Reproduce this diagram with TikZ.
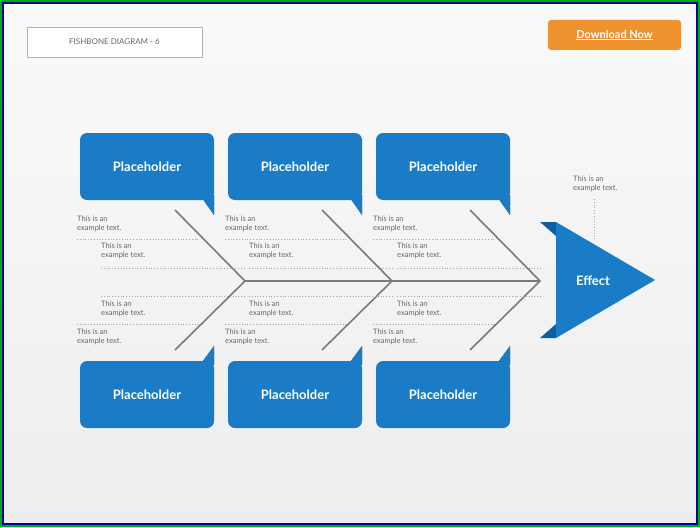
\documentclass[tikz,border=0pt]{standalone}
\usepackage{fontspec}
\setmainfont{Lato}
\begin{document}
\begin{tikzpicture}[x=1pt,y=-1pt,
  box/.style={fill=boxblue,rounded corners=7pt,text=white,font=\fontsize{13}{15}\selectfont\bfseries},
  ex/.style={anchor=north west,align=left,text=txtgray,font=\fontsize{7.5}{9}\selectfont,inner sep=0pt},
  dots/.style={dotted,draw=gray!70,line width=0.8pt},
  bone/.style={draw=bonegray,line width=1.6pt}]
\definecolor{boxblue}{HTML}{1A7CC6}
\definecolor{darkblue}{HTML}{0D5EA3}
\definecolor{txtgray}{HTML}{666666}
\definecolor{bonegray}{HTML}{7A7A7A}
\definecolor{orng}{HTML}{F0922E}
\useasboundingbox (0,0) rectangle (700,527);
\shade[top color=gray!4,bottom color=gray!14] (0,0) rectangle (700,527);
\draw[green!70!black,line width=2pt] (1,1) rectangle (699,526);
\draw[blue!70!black,line width=1.5pt] (3,3) rectangle (697,524);
% title
\node[draw=gray!60,fill=white,minimum width=175pt,minimum height=30pt,text=txtgray,font=\fontsize{8}{10}\selectfont] (title) at (114.5,42) {FISHBONE DIAGRAM - 6};
\node[fill=orng,rounded corners=3pt,minimum width=133pt,minimum height=30pt,text=white,font=\fontsize{11}{13}\selectfont\bfseries] (dl) at (614.5,35) {\underline{Download Now}};
% spine and bones
\coordinate (j1) at (245,281); \coordinate (j2) at (392,281); \coordinate (j3) at (540,281);
\coordinate (t1) at (175,210); \coordinate (t2) at (322,210); \coordinate (t3) at (470,210);
\coordinate (b1) at (175,350); \coordinate (b2) at (322,350); \coordinate (b3) at (470,350);
\draw[bone] (j1) -- (j3);
\foreach \i in {1,2,3}{\draw[bone] (t\i) -- (j\i) -- (b\i);}
% boxes
\foreach \i/\x in {1/80,2/228,3/376}{
  \fill[darkblue] (\x+120,195) -- (\x+134,195) -- (\x+134,215) -- cycle;
  \fill[boxblue] (\x+120,195) -- (\x+134,195) -- (\x+134,215) -- cycle;
  \fill[darkblue] (\x+120,365) -- (\x+134,365) -- (\x+134,346) -- cycle;
  \fill[boxblue] (\x+120,365) -- (\x+134,365) -- (\x+134,346) -- cycle;
  \node[box,minimum width=134pt,minimum height=67pt] (top\i) at (\x+67,166.5) {Placeholder};
  \node[box,minimum width=134pt,minimum height=67pt] (bot\i) at (\x+67,394.5) {Placeholder};
  \node[ex] (a\i) at (\x-3,216) {This is an\\example text.};
  \draw[dots] (\x-3,239) -- (\x+120,239);
  \node[ex] (b\i) at (\x+21,243) {This is an\\example text.};
  \draw[dots] (\x+21,268) -- (\x+165,268);
  \draw[dots] (\x+21,296) -- (\x+165,296);
  \node[ex] (c\i) at (\x+21,301) {This is an\\example text.};
  \draw[dots] (\x-3,324) -- (\x+120,324);
  \node[ex] (d\i) at (\x-3,329) {This is an\\example text.};
}
% effect
\fill[darkblue] (540,222) -- (556,222) -- (556,236) -- cycle;
\fill[darkblue] (540,338) -- (556,338) -- (556,324) -- cycle;
\fill[boxblue] (556,222) -- (655,280) -- (556,338) -- cycle;
\node[text=white,font=\fontsize{13}{15}\selectfont\bfseries] (eff) at (593,281) {Effect};
\node[ex] (e) at (573,176) {This is an\\example text.};
\draw[dots] (594,199) -- (594,240);
\end{tikzpicture}
\end{document}
